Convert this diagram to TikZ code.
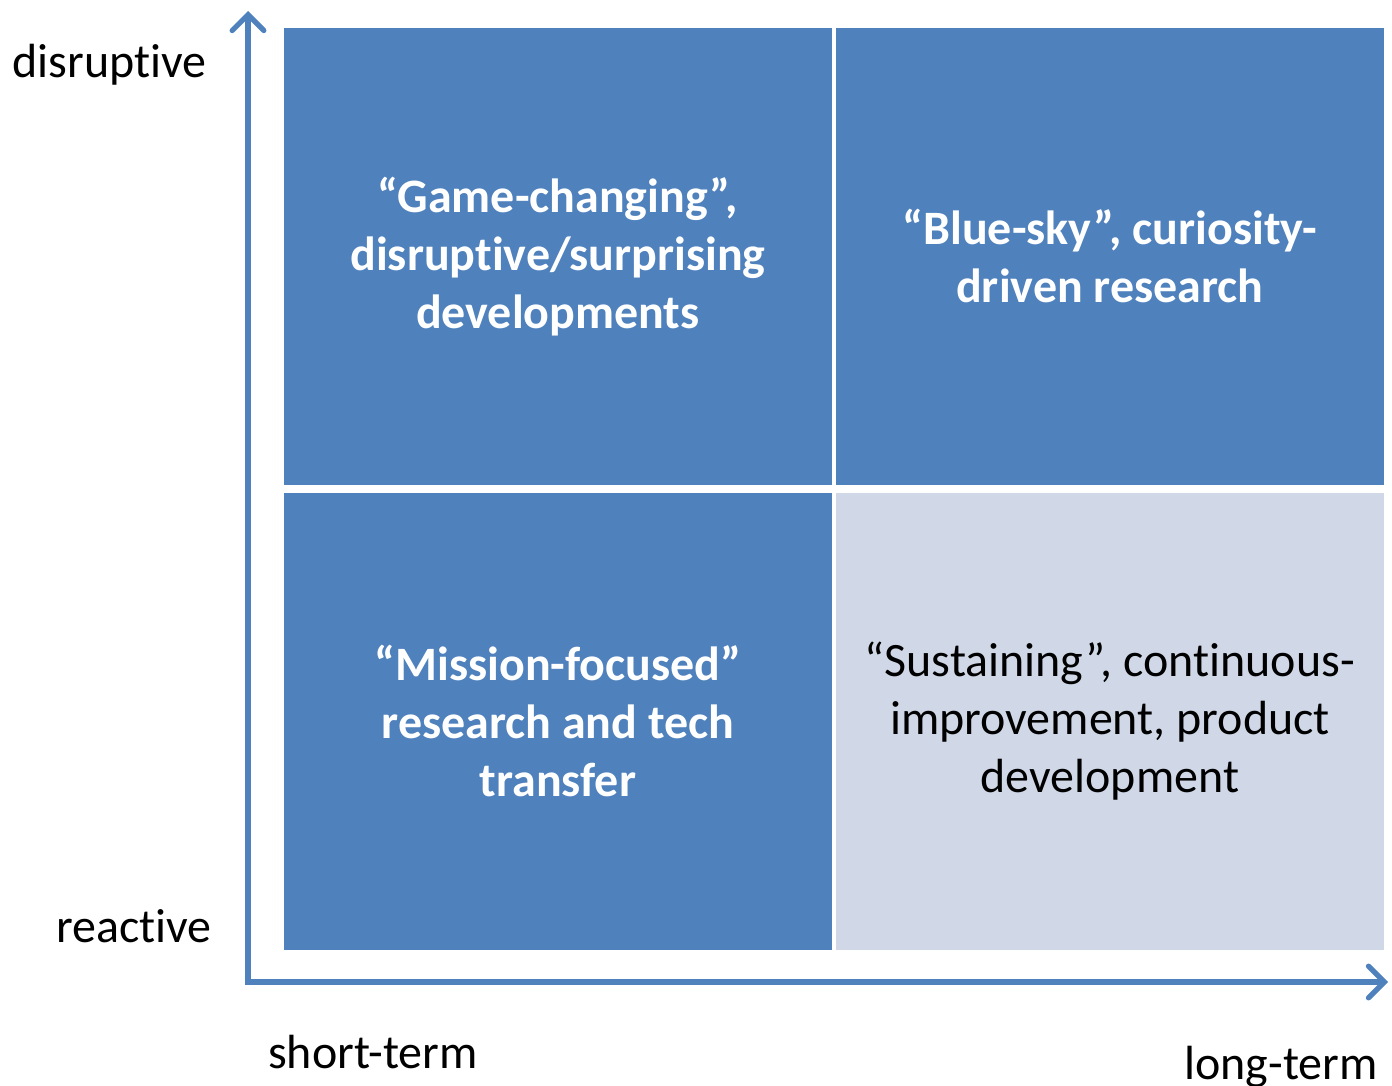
\documentclass[tikz,border=0pt]{standalone}
\usepackage{fontspec}
\setmainfont[Ligatures=NoCommon]{Carlito}
\usetikzlibrary{arrows.meta}
\definecolor{cellblue}{HTML}{4F81BD}
\definecolor{celllight}{HTML}{D0D8E8}
\tikzset{
  cell/.style={draw=white, line width=1pt, minimum width=550*0.02cm, minimum height=459*0.02cm, inner sep=0pt, anchor=north west},
  darkcell/.style={cell, fill=cellblue, text=white, font=\fontsize{27.3}{33}\selectfont\bfseries, align=center},
  lightcell/.style={cell, fill=celllight, text=black, font=\fontsize{27.3}{33}\selectfont, align=center},
  axis/.style={draw=cellblue, line width=3pt, -{Straight Barb[length=9pt, width=18pt, line width=3pt, line cap=round]}},
  axlabel/.style={font=\fontsize{27.3}{33}\selectfont, inner sep=0pt}
}
\begin{document}
\begin{tikzpicture}[x=0.02cm, y=-0.02cm]
\useasboundingbox (0,0) rectangle (1392,1085);
\node[darkcell] (tl) at (282,26) {“Game-changing”,\\disruptive/surprising\\developments};
\node[darkcell] (tr) at (834,26) {“Blue-sky”, curiosity-\\driven research};
\node[darkcell] (bl) at (282,491) {“Mission-focused”\\research and tech\\transfer};
\node[lightcell] (br) at (834,491) {“Sustaining”, continuous-\\improvement, product\\development};
\coordinate (o) at (248,982);
\coordinate (ytop) at (248,11);
\coordinate (xend) at (1388,982);
\draw[axis] (o) -- (ytop);
\draw[axis] ([xshift=-1.5pt]o) -- (xend);
\node[axlabel, anchor=base west] (dis) at (12,77) {disruptive};
\node[axlabel, anchor=base] (rea) at (134,942) {reactive};
\node[axlabel, anchor=base] (st) at (373,1068) {short-term};
\node[axlabel, anchor=base east] (lt) at (1378,1079) {long-term};
\end{tikzpicture}
\end{document}
